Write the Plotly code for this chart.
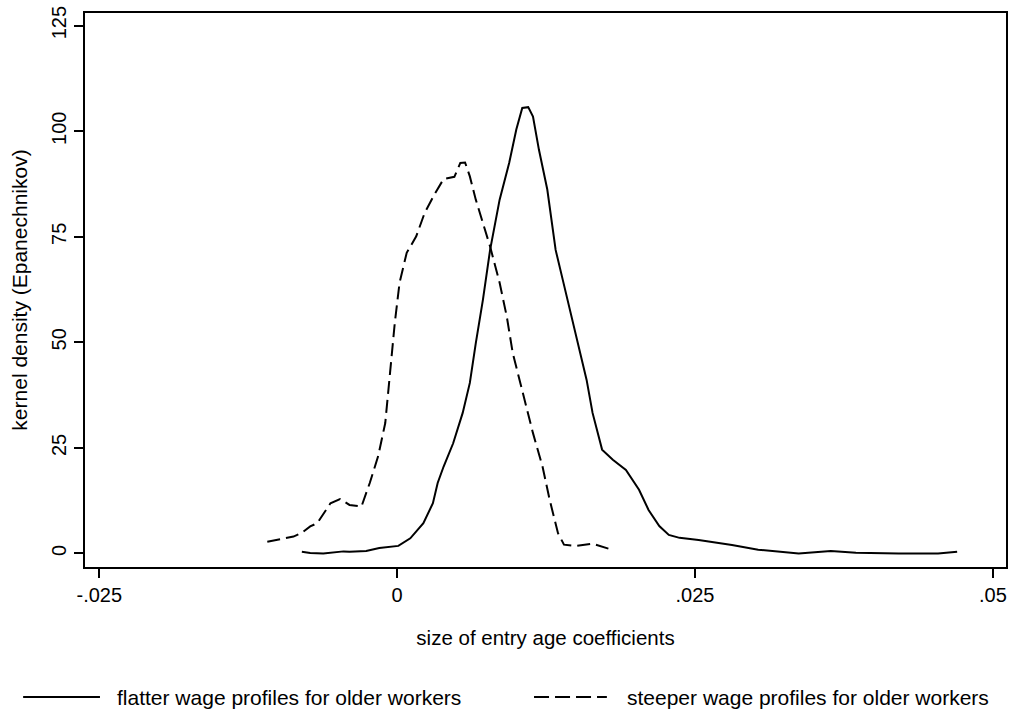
import plotly.graph_objects as go

# ---- data ----
flatter_x = [-0.0080, -0.0073, -0.0062, -0.0045, -0.0040, -0.0026, -0.0015, 0.0001,
             0.0011, 0.0022, 0.0030, 0.0034, 0.0039, 0.0047, 0.0055, 0.0061, 0.0066,
             0.0072, 0.0078, 0.0086, 0.0094, 0.0100, 0.0105, 0.0110, 0.0114, 0.0119,
             0.0126, 0.0133, 0.0139, 0.0145, 0.0150, 0.0159, 0.0164, 0.0172, 0.0181,
             0.0192, 0.0203, 0.0211, 0.0220, 0.0228, 0.0237, 0.0253, 0.0281, 0.0303,
             0.0337, 0.0364, 0.0385, 0.0421, 0.0454, 0.0470]
flatter_y = [0.4, 0.1, 0.0, 0.5, 0.4, 0.6, 1.3, 1.8,
             3.6, 7.2, 11.9, 16.7, 20.6, 26.1, 33.3, 40.4, 49.8,
             60.1, 71.9, 83.8, 92.5, 100.4, 105.5, 105.7, 103.5, 95.6,
             86.2, 71.9, 64.8, 57.7, 52.2, 41.1, 33.3, 24.6, 22.2,
             19.8, 15.1, 10.3, 6.5, 4.4, 3.7, 3.2, 2.0, 0.9,
             0.0, 0.6, 0.2, 0.0, 0.0, 0.4]

steeper_x = [-0.0109, -0.0095, -0.0087, -0.0080, -0.0073, -0.0067, -0.0056, -0.0048,
             -0.0040, -0.0030, -0.0023, -0.0016, -0.0010, -0.0006, -0.0002, 0.0002,
             0.0008, 0.0016, 0.0023, 0.0032, 0.0039, 0.0048, 0.0053, 0.0057, 0.0061,
             0.0066, 0.0072, 0.0078, 0.0086, 0.0092, 0.0097, 0.0105, 0.0114, 0.0122,
             0.0128, 0.0135, 0.0140, 0.0150, 0.0164, 0.0179]
steeper_y = [2.8, 3.6, 4.0, 4.9, 6.4, 7.2, 11.9, 12.9,
             11.5, 11.1, 16.7, 23.0, 30.9, 42.7, 54.6, 64.1,
             71.2, 75.1, 80.6, 85.4, 88.7, 89.2, 92.5, 92.6, 89.3,
             83.8, 78.3, 72.7, 64.1, 56.1, 47.5, 38.8, 28.5, 20.6,
             12.7, 4.8, 2.1, 1.8, 2.3, 1.0]

x_tickvals = [-0.025, 0, 0.025, 0.05]
x_ticktext = ["-.025", "0", ".025", ".05"]
y_tickvals = [0, 25, 50, 75, 100, 125]
y_ticktext = ["0", "25", "50", "75", "100", "125"]

series_names = ["flatter wage profiles for older workers",
                "steeper wage profiles for older workers"]

FONT = "Liberation Sans, Arial, sans-serif"
DASH = "13px,6px"

fig = go.Figure()
fig.add_trace(go.Scatter(x=flatter_x, y=flatter_y, mode="lines", name=series_names[0],
                         line=dict(color="black", width=2), showlegend=False))
fig.add_trace(go.Scatter(x=steeper_x, y=steeper_y, mode="lines", name=series_names[1],
                         line=dict(color="black", width=2, dash=DASH), showlegend=False))

# custom legend (key lines + labels) below the plot
L, R, T, B = 85, 1008, 13, 567
def px2paper_x(p):
    return (p - L) / (R - L)
def px2paper_y(p):
    return (B - p) / (B - T)

leg_y = px2paper_y(697)
fig.add_shape(type="line", xref="paper", yref="paper",
              x0=px2paper_x(23), x1=px2paper_x(100), y0=leg_y, y1=leg_y,
              line=dict(color="black", width=2))
fig.add_shape(type="line", xref="paper", yref="paper",
              x0=px2paper_x(535), x1=px2paper_x(608), y0=leg_y, y1=leg_y,
              line=dict(color="black", width=2, dash="15px,6px"))
fig.add_annotation(xref="paper", yref="paper", x=px2paper_x(115), y=leg_y,
                   text=series_names[0], showarrow=False, xanchor="left", yanchor="middle",
                   font=dict(family=FONT, size=21, color="black"))
fig.add_annotation(xref="paper", yref="paper", x=px2paper_x(626), y=leg_y,
                   text=series_names[1], showarrow=False, xanchor="left", yanchor="middle",
                   font=dict(family=FONT, size=21, color="black"))

axis_common = dict(showgrid=False, zeroline=False, showline=True, linecolor="black",
                   linewidth=2, mirror=True, ticks="outside", tickcolor="black",
                   tickwidth=1.5, ticklen=9,
                   tickfont=dict(family=FONT, size=20, color="black"))

fig.update_layout(
    width=1014, height=715,
    margin=dict(l=L, r=1014 - R, t=T, b=715 - B),
    plot_bgcolor="white", paper_bgcolor="white",
    font=dict(family=FONT, color="black"),
    xaxis=dict(range=[-0.0262, 0.0511], tickvals=x_tickvals, ticktext=x_ticktext,
               title=dict(text="size of entry age coefficients",
                          font=dict(family=FONT, size=20.5), standoff=26),
               **axis_common),
    yaxis=dict(range=[-3.2, 128.0], tickvals=y_tickvals, ticktext=y_ticktext,
               tickangle=-90,
               title=dict(text="kernel density (Epanechnikov)",
                          font=dict(family=FONT, size=21), standoff=15),
               **axis_common),
)

fig.write_html("out.html", config={"displayModeBar": False},
               post_script="document.body.style.margin='0';document.body.style.overflow='hidden';")
